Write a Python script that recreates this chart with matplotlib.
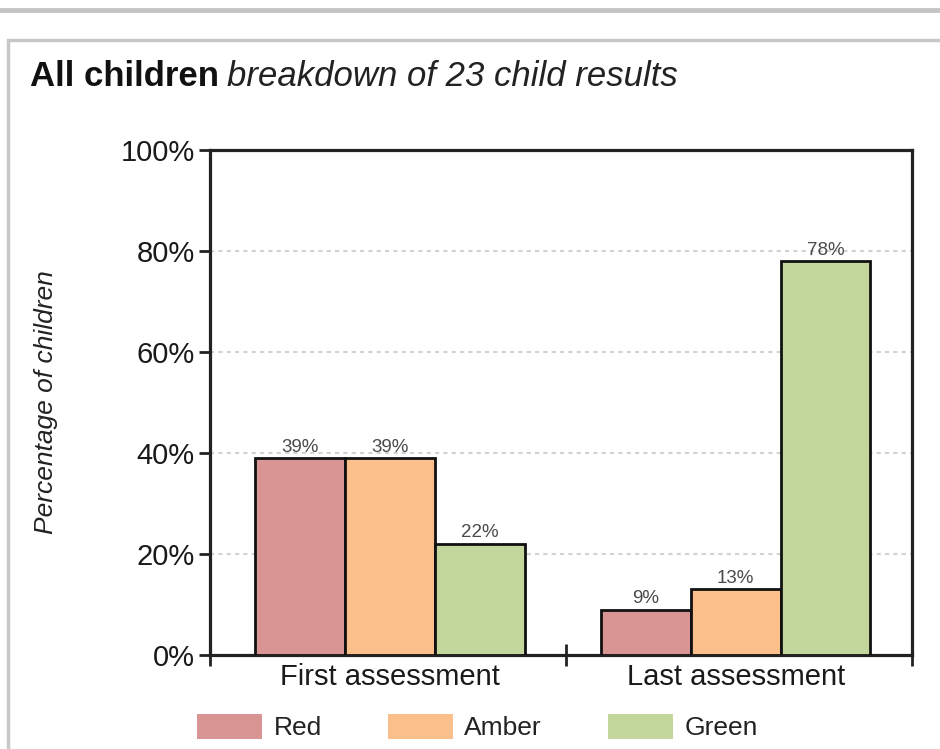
import numpy as np
import matplotlib.pyplot as plt
from matplotlib.patches import Patch, Rectangle
from matplotlib.lines import Line2D

plt.rcParams['font.family'] = ['Liberation Sans', 'DejaVu Sans']

groups = ['First assessment', 'Last assessment']
series = ['Red', 'Amber', 'Green']
values = {
    'Red': [39, 9],
    'Amber': [39, 13],
    'Green': [22, 78],
}
colors = {'Red': '#D99594', 'Amber': '#FBBF8C', 'Green': '#C3D69B'}
yticks = [0, 20, 40, 60, 80, 100]

fig = plt.figure(figsize=(9.4, 7.49), dpi=100)

# page decoration: grey rule and panel frame
fig.add_artist(Line2D([0, 1], [1 - 10 / 749, 1 - 10 / 749], color='#c4c4c4', lw=3.5))
fig.add_artist(Rectangle((8 / 940, -0.05), 1.2, 1 - 40 / 749 + 0.05, fill=False,
                         edgecolor='#c8c8c8', lw=2.5))

ax = fig.add_axes([0.2234, 0.1255, 0.7468, 0.6742])
width = 0.26
x = np.array([0.49, 1.49])
for i, s in enumerate(series):
    xs = x + (i - 1) * width
    bars = ax.bar(xs, values[s], width, color=colors[s], edgecolor='#111111',
                  linewidth=2, zorder=3, label=s)
    for b, v in zip(bars, values[s]):
        ax.text(b.get_x() + b.get_width() / 2, v + 0.5, f'{v}%', ha='center',
                va='bottom', fontsize=13.5, color='#4a4a4a')

ax.set_xlim(-0.03, 2)
ax.set_ylim(0, 100)
ax.set_yticks(yticks)
ax.set_yticklabels([f'{t}%' for t in yticks], fontsize=21, color='#1a1a1a')
ax.tick_params(axis='y', length=8, width=2, color='#222222', pad=3)
ax.set_xticks([-0.03, 1, 2])
ax.set_xticklabels([])
ax.set_xticks(x, minor=True)
ax.set_xticklabels(groups, minor=True, fontsize=21, color='#1a1a1a')
ax.tick_params(axis='x', which='major', direction='inout', length=16, width=2, color='#222222')
ax.tick_params(axis='x', which='minor', length=0, pad=6)

for sp in ax.spines.values():
    sp.set_linewidth(2.3)
    sp.set_color('#222222')

ax.yaxis.grid(True, color='#d2d2d2', linestyle=(0, (2, 2)), linewidth=1.5, zorder=0)
ax.set_axisbelow(True)
ax.set_ylabel('Percentage of children', fontsize=19, style='italic', color='#222222',
              labelpad=45)

handles = [Patch(facecolor=colors[s], edgecolor='none', label=s) for s in series]
fig.legend(handles=handles, loc='center', bbox_to_anchor=(0.508, 1 - 727 / 749), ncol=3,
           frameon=False, fontsize=19, handlelength=2.45, handleheight=1.1,
           columnspacing=2.5, handletextpad=0.45, labelcolor='#222222')

# title in two styles
t1 = fig.text(30 / 940, 1 - 76 / 749, 'All children', fontsize=25, fontweight='bold',
              va='center', color='#111111')
fig.canvas.draw()
bb = t1.get_window_extent()
fig.text(bb.x1 / 940 + 8 / 940, 1 - 76 / 749, 'breakdown of 23 child results', fontsize=25,
         style='italic', va='center', color='#222222')

fig.savefig('out.png', dpi=100)
